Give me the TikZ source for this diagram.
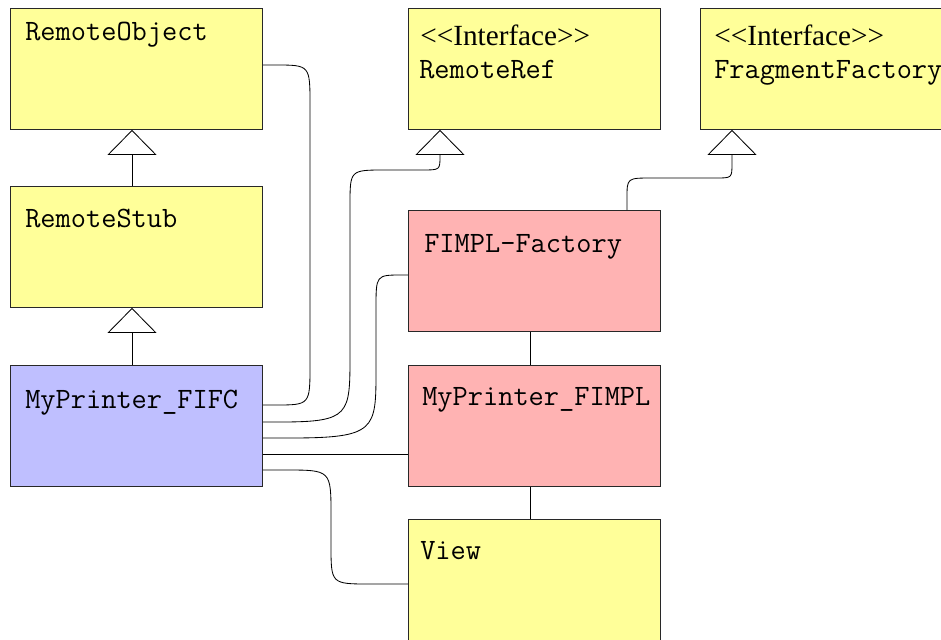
\documentclass[tikz,border=0pt]{standalone}
\usepackage{fontspec}
\setmainfont{Liberation Serif}
\usetikzlibrary{arrows.meta,positioning}
\definecolor{clsyellow}{RGB}{255,255,153}
\definecolor{clspink}{RGB}{255,179,179}
\definecolor{clsblue}{RGB}{191,191,255}
\definecolor{clsline}{RGB}{40,40,40}
\newcommand{\clsfont}{\fontsize{21}{25}\selectfont\ttfamily}
\newcommand{\stereofont}{\fontsize{20.8}{25}\selectfont\rmfamily}

\begin{document}
\begin{tikzpicture}[x=0.025cm, y=-0.025cm,
      cls/.style={rectangle, draw=clsline, line width=0.6pt, anchor=north west, inner sep=0pt,
                  minimum width=6.3cm, minimum height=3.025cm},
      clsname/.style={anchor=base west, inner sep=0pt, font=\clsfont},
      stereo/.style={anchor=base west, inner sep=0pt, font=\stereofont},
      link/.style={line width=0.6pt, black},
      inherit/.style={link, -{Triangle[open, length=0.625cm, width=1.225cm]}}]
    \useasboundingbox (0,0) rectangle (941,639);
    \clip (0,0) rectangle (941,639);

    % classes
    \node[cls, fill=clsyellow] (robj)   at (10,8)    {};
    \node[cls, fill=clsyellow] (rstub)  at (10,186)  {};
    \node[cls, fill=clsblue]   (fifc)   at (10,365)  {};
    \node[cls, fill=clsyellow] (rref)   at (408,8)   {};
    \node[cls, fill=clsyellow] (ffac)   at (700,8)   {};
    \node[cls, fill=clspink]   (fimplf) at (408,210) {};
    \node[cls, fill=clspink]   (fimpl)  at (408,365) {};
    \node[cls, fill=clsyellow] (view)   at (408,519) {};

    % class names
    \node[clsname] (robj-t)   at ([shift={(15,32)}]robj.north west)   {RemoteObject};
    \node[clsname] (rstub-t)  at ([shift={(15,41)}]rstub.north west)  {RemoteStub};
    \node[clsname] (fifc-t)   at ([shift={(15,43)}]fifc.north west)   {MyPrinter\_FIFC};
    \node[stereo]  (rref-s)   at ([shift={(12,37)}]rref.north west)   {{<}{<}Interface{>}{>}};
    \node[clsname] (rref-t)   at ([shift={(11,70)}]rref.north west)   {RemoteRef};
    \node[stereo]  (ffac-s)   at ([shift={(14,37)}]ffac.north west)   {{<}{<}Interface{>}{>}};
    \node[clsname] (ffac-t)   at ([shift={(14,70)}]ffac.north west)   {FragmentFactory};
    \node[clsname] (fimplf-t) at ([shift={(16,42)}]fimplf.north west) {FIMPL-Factory};
    \node[clsname] (fimpl-t)  at ([shift={(14,40)}]fimpl.north west)  {MyPrinter\_FIMPL};
    \node[clsname] (view-t)   at ([shift={(12,40)}]view.north west)   {View};

    % generalisations
    \draw[inherit] ([shift={(122,0)}]rstub.north west) -- ([shift={(122,0)}]robj.south west);
    \draw[inherit] ([shift={(122,0)}]fifc.north west) -- ([shift={(122,0)}]rstub.south west);
    \draw[inherit] ([shift={(0,57)}]fifc.north east) -- (280,422)
        .. controls (350,422) and (350,415) .. (350,355) -- (350,205)
        .. controls (350,170) .. (385,170) -- (422,170)
        .. controls (440,170) .. (440,156) -- ([shift={(32,0)}]rref.south west);
    \draw[inherit] ([shift={(219,0)}]fimplf.north west) -- (627,198)
        .. controls (627,178) .. (652,178) -- (716,178)
        .. controls (732,178) .. (732,163) -- ([shift={(32,0)}]ffac.south west);

    % associations
    \draw[link] ([shift={(0,57)}]robj.north east) -- (275,65)
        .. controls (310,65) .. (310,105) -- (310,365)
        .. controls (310,405) .. (275,405) -- ([shift={(0,40)}]fifc.north east);
    \draw[link] ([shift={(0,73)}]fifc.north east) -- (290,438)
        .. controls (376,438) and (376,430) .. (376,370) -- (376,308)
        .. controls (376,275) .. (402,275) -- ([shift={(0,65)}]fimplf.north west);
    \draw[link] ([shift={(0,89)}]fifc.north east) -- ([shift={(0,89)}]fimpl.north west);
    \draw[link] ([shift={(0,105)}]fifc.north east) -- (285,470)
        .. controls (331,470) .. (331,515) -- (331,545)
        .. controls (331,584) .. (370,584) -- ([shift={(0,65)}]view.north west);
    \draw[link] ([shift={(122,0)}]fimplf.south west) -- ([shift={(122,0)}]fimpl.north west);
    \draw[link] ([shift={(122,0)}]fimpl.south west) -- ([shift={(122,0)}]view.north west);
  \end{tikzpicture}
\end{document}
